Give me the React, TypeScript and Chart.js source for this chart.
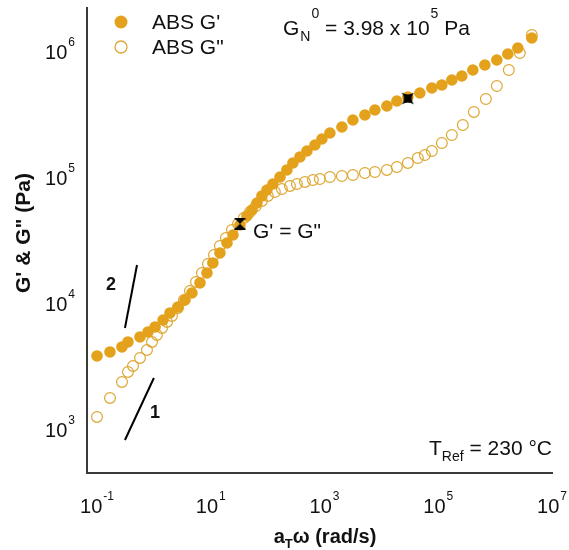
import React, { useEffect, useRef } from 'react';
import { Chart, registerables } from 'chart.js';

Chart.register(...registerables);

// ---------- data ----------
const seriesLabels = ["ABS G'", 'ABS G"'];

const freqGp = [0.1, 0.169, 0.275, 0.35, 0.57, 0.788, 1.05, 1.45, 1.92, 2.65, 3.52, 4.67, 6.46, 8.58, 10.9, 14.5, 19.3, 24.6, 32.6, 43.3, 53.0, 64.9, 79.4, 97.2, 124, 165, 218, 278, 370, 491, 678, 900, 1244, 2022, 3157, 5129, 7690, 12490, 18730, 29220, 47490, 77190, 115700, 173400, 259900, 405700, 659200, 1071000, 1672000, 2506000, 4416000];
const gPrime = [3626, 3900, 4273, 4682, 5129, 5619, 6155, 6992, 7947, 8867, 10070, 11450, 13740, 16490, 19790, 23750, 28500, 32980, 39580, 46650, 52040, 59120, 67200, 74960, 83620, 95020, 108000, 122700, 136900, 152700, 170300, 190000, 212100, 236600, 268900, 294500, 322700, 347100, 380200, 408900, 439900, 481900, 509100, 557800, 599900, 669300, 733400, 803400, 896700, 1000000, 1200000];

const freqGpp = [0.1, 0.169, 0.275, 0.35, 0.429, 0.57, 0.756, 0.926, 1.13, 1.39, 1.7, 2.08, 2.65, 3.38, 4.31, 5.5, 7.0, 8.93, 11.4, 14.5, 18.5, 23.6, 30.1, 38.3, 48.9, 62.3, 79.4, 101, 134, 178, 247, 327, 453, 626, 830, 1244, 2022, 3157, 5129, 7690, 12490, 18730, 29220, 43810, 58160, 77190, 115700, 173400, 270600, 422500, 686400, 1071000, 1741000, 2718000, 4416000];
const gDoublePrime = [1192, 1685, 2256, 2708, 3021, 3496, 4046, 4682, 5319, 6043, 6744, 7522, 8706, 10070, 11870, 13990, 16490, 19430, 22890, 26990, 31220, 36130, 40310, 44960, 50170, 55980, 61330, 67200, 72270, 76330, 80640, 83620, 86750, 89950, 91620, 95020, 96760, 98560, 102200, 104100, 108000, 114000, 122700, 134400, 141900, 152700, 176700, 204500, 245400, 311200, 394400, 500000, 669300, 912800, 1268000];

const crossoverX = [32.6];
const crossoverY = [40500];
const plateauX = [29220];
const plateauY = [398000];

const slope2X = [0.31, 0.505];
const slope2Y = [6040, 19080];
const slope1X = [0.31, 1.0];
const slope1Y = [783, 2427];

const xTickExps = [-1, 1, 3, 5, 7];
const yTickExps = [3, 4, 5, 6];

const X_MIN = 0.0667;
const X_MAX = 1e7;
const Y_MIN = 428.5;
const Y_MAX = 2.075e6;

// ---------- styles ----------
const FONT = '"Liberation Sans", Arial, Helvetica, sans-serif';
const ORANGE = '#E4A11B';
const ORANGE_OPEN = '#DCA733';
const INK = '#111111';
const TICK_SIZE = 20;
const SUP_SIZE = 12;
const ANN_SIZE = 21;
const SUB_SIZE = 14;

type Align = 'left' | 'center' | 'right';

function txt(ctx: CanvasRenderingContext2D, s: string, x: number, y: number, size: number, bold = false, align: Align = 'left'): number {
  ctx.save();
  ctx.font = `${bold ? 'bold ' : ''}${size}px ${FONT}`;
  ctx.textBaseline = 'alphabetic';
  ctx.fillStyle = INK;
  const w = ctx.measureText(s).width;
  let dx = 0;
  if (align === 'center') dx = -w / 2;
  if (align === 'right') dx = -w;
  ctx.fillText(s, x + dx, y);
  ctx.restore();
  return w;
}

function measure(ctx: CanvasRenderingContext2D, s: string, size: number, bold = false): number {
  ctx.save();
  ctx.font = `${bold ? 'bold ' : ''}${size}px ${FONT}`;
  const w = ctx.measureText(s).width;
  ctx.restore();
  return w;
}

function makeHourglass(): HTMLCanvasElement {
  const c = document.createElement('canvas');
  c.width = 12; c.height = 12;
  const g = c.getContext('2d')!;
  g.fillStyle = '#000';
  g.beginPath();
  g.moveTo(0.5, 0.5); g.lineTo(11.5, 0.5); g.lineTo(6, 6); g.closePath();
  g.moveTo(0.5, 11.5); g.lineTo(11.5, 11.5); g.lineTo(6, 6); g.closePath();
  g.fill();
  g.fillRect(0.5, 0, 11, 1.6);
  g.fillRect(0.5, 10.4, 11, 1.6);
  return c;
}

function makeAstroid(): HTMLCanvasElement {
  const c = document.createElement('canvas');
  c.width = 13; c.height = 13;
  const g = c.getContext('2d')!;
  g.fillStyle = '#000';
  g.translate(6.5, 6.5);
  g.beginPath();
  g.moveTo(-6, -6);
  g.quadraticCurveTo(0, -2, 6, -6);
  g.quadraticCurveTo(2, 0, 6, 6);
  g.quadraticCurveTo(0, 2, -6, 6);
  g.quadraticCurveTo(-2, 0, -6, -6);
  g.closePath();
  g.fill();
  return c;
}

const decorPlugin = {
  id: 'decor',
  afterDraw(chart: any) {
    const ctx: CanvasRenderingContext2D = chart.ctx;
    const xs = chart.scales.x;
    const ys = chart.scales.y;
    const area = chart.chartArea;

    // x tick labels 10^n
    for (const e of xTickExps) {
      const cx = xs.getPixelForValue(Math.pow(10, e));
      const w10 = measure(ctx, '10', TICK_SIZE);
      const ws = measure(ctx, String(e), SUP_SIZE);
      const total = w10 + 1 + ws;
      const x0 = cx - total / 2;
      txt(ctx, '10', x0, 513, TICK_SIZE);
      txt(ctx, String(e), x0 + w10 + 1, 500, SUP_SIZE);
    }
    // y tick labels 10^n
    for (const e of yTickExps) {
      const py = ys.getPixelForValue(Math.pow(10, e));
      const w10 = measure(ctx, '10', TICK_SIZE);
      const ws = measure(ctx, String(e), SUP_SIZE);
      const right = area.left - 12;
      const x0 = right - (w10 + 1 + ws);
      txt(ctx, '10', x0, py + 10.5, TICK_SIZE);
      txt(ctx, String(e), x0 + w10 + 1, py - 2.5, SUP_SIZE);
    }

    // y axis title
    ctx.save();
    ctx.translate(24, 233);
    ctx.rotate(-Math.PI / 2);
    ctx.font = `bold 21px ${FONT}`;
    ctx.fillStyle = INK;
    ctx.textAlign = 'center';
    ctx.textBaseline = 'middle';
    ctx.fillText('G\' & G" (Pa)', 0, 0);
    ctx.restore();

    // x axis title: a_T ω (rad/s)
    {
      const wa = measure(ctx, 'a', 20, true);
      const wt = measure(ctx, 'T', 13, true);
      const wr = measure(ctx, 'ω (rad/s)', 20, true);
      const total = wa + wt + wr;
      let x = 325 - total / 2;
      x += txt(ctx, 'a', x, 543, 20, true);
      x += txt(ctx, 'T', x, 548, 13, true);
      txt(ctx, 'ω (rad/s)', x, 543, 20, true);
    }

    // legend
    ctx.save();
    ctx.fillStyle = ORANGE;
    ctx.beginPath();
    ctx.arc(area.left + 34, 22, 6.5, 0, Math.PI * 2);
    ctx.fill();
    ctx.strokeStyle = ORANGE_OPEN;
    ctx.lineWidth = 1.3;
    ctx.beginPath();
    ctx.arc(area.left + 34, 47, 6, 0, Math.PI * 2);
    ctx.stroke();
    ctx.restore();
    txt(ctx, seriesLabels[0], area.left + 65, 29, ANN_SIZE);
    txt(ctx, seriesLabels[1], area.left + 65, 54, ANN_SIZE);

    // G_N^0 annotation
    {
      let x = 283;
      x += txt(ctx, 'G', x, 35, ANN_SIZE);
      const xn = x + 1;
      const wn = txt(ctx, 'N', xn, 41, SUB_SIZE);
      txt(ctx, '0', xn + wn + 1, 18, SUB_SIZE);
      x = xn + wn + 1 + measure(ctx, '0', SUB_SIZE);
      x += txt(ctx, ' = 3.98 x 10', x, 35, ANN_SIZE);
      x += 1;
      x += txt(ctx, '5', x, 18, SUB_SIZE);
      txt(ctx, ' Pa', x, 35, ANN_SIZE);
    }

    // G' = G" annotation
    txt(ctx, 'G\' = G"', 253, 238, ANN_SIZE);

    // T_Ref annotation (right aligned to plot end)
    {
      const wT = measure(ctx, 'T', ANN_SIZE);
      const wR = measure(ctx, 'Ref', SUB_SIZE);
      const wE = measure(ctx, ' = 230 °C', ANN_SIZE);
      let x = area.right - (wT + wR + wE);
      x += txt(ctx, 'T', x, 455, ANN_SIZE);
      x += txt(ctx, 'Ref', x, 461, SUB_SIZE);
      txt(ctx, ' = 230 °C', x, 455, ANN_SIZE);
    }

    // slope labels
    txt(ctx, '2', 111, 290, 18, true, 'center');
    txt(ctx, '1', 150, 418, 18, true);
  },
};

export default function App() {
  const ref = useRef<HTMLCanvasElement | null>(null);

  useEffect(() => {
    document.body.style.margin = '0';
    const canvas = ref.current;
    if (!canvas) return;

    const toPts = (xs: number[], ys: number[]) => xs.map((x, i) => ({ x, y: ys[i] }));

    const chart = new Chart(canvas, {
      type: 'scatter',
      data: {
        datasets: [
          {
            label: 'G=G marker',
            data: toPts(crossoverX, crossoverY),
            pointStyle: makeHourglass() as any,
            pointRadius: 6,
            order: 0,
          },
          {
            label: 'GN0 marker',
            data: toPts(plateauX, plateauY),
            pointStyle: makeAstroid() as any,
            pointRadius: 6,
            order: 0,
          },
          {
            label: seriesLabels[0],
            data: toPts(freqGp, gPrime),
            pointStyle: 'circle',
            pointRadius: 5.8,
            backgroundColor: ORANGE,
            borderColor: ORANGE,
            borderWidth: 0,
            order: 1,
          },
          {
            label: seriesLabels[1],
            data: toPts(freqGpp, gDoublePrime),
            pointStyle: 'circle',
            pointRadius: 5.4,
            backgroundColor: 'rgba(0,0,0,0)',
            borderColor: ORANGE_OPEN,
            borderWidth: 1.2,
            order: 2,
          },
          {
            label: 'slope 2',
            data: toPts(slope2X, slope2Y),
            showLine: true,
            pointRadius: 0,
            borderColor: '#000',
            borderWidth: 2,
            order: 3,
          },
          {
            label: 'slope 1',
            data: toPts(slope1X, slope1Y),
            showLine: true,
            pointRadius: 0,
            borderColor: '#000',
            borderWidth: 2,
            order: 3,
          },
        ],
      },
      options: {
        animation: false,
        responsive: false,
        maintainAspectRatio: false,
        events: [],
        layout: { padding: { left: 87, right: 17, top: 8, bottom: 77 } },
        plugins: {
          legend: { display: false },
          tooltip: { enabled: false },
        },
        scales: {
          x: {
            type: 'logarithmic',
            min: X_MIN,
            max: X_MAX,
            grid: { display: false, drawTicks: false },
            border: { display: true, color: '#3a3a3a', width: 2 },
            ticks: { display: false },
          },
          y: {
            type: 'logarithmic',
            min: Y_MIN,
            max: Y_MAX,
            grid: { display: false, drawTicks: false },
            border: { display: true, color: '#3a3a3a', width: 2 },
            ticks: { display: false },
          },
        },
      },
      plugins: [decorPlugin],
    });

    return () => chart.destroy();
  }, []);

  return (
    <canvas ref={ref} width={569} height={550} style={{ display: 'block', width: 569, height: 550 }} />
  );
}
